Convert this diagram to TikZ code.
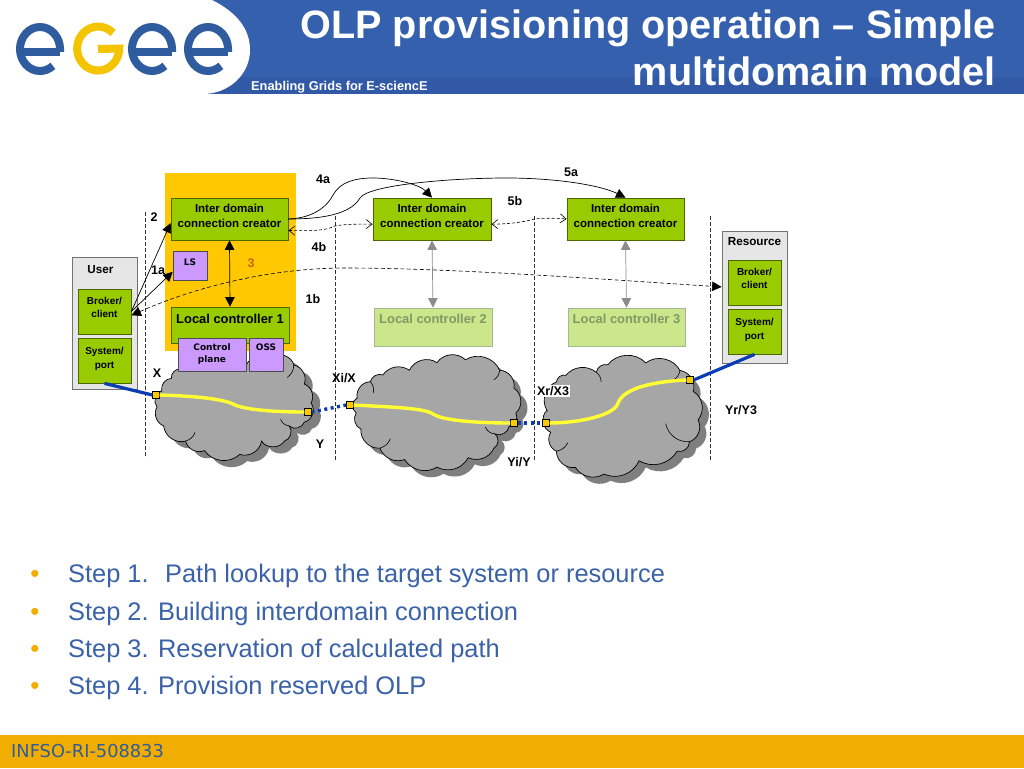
\documentclass[tikz,border=0pt]{standalone}
\usepackage{fontspec}
\setmainfont{Liberation Sans}
\newfontfamily\verd{DejaVu Sans}
\usetikzlibrary{arrows.meta}
\definecolor{hdr}{HTML}{3560AE}
\definecolor{hdrd}{HTML}{3159A6}
\definecolor{logob}{HTML}{2F5C9E}
\definecolor{logoy}{HTML}{F5C400}
\definecolor{foot}{HTML}{F2AE00}
\definecolor{bodyb}{HTML}{3A62A8}
\definecolor{grn}{HTML}{99CC00}
\definecolor{grnb}{HTML}{4D6600}
\definecolor{pur}{HTML}{CC99FF}
\definecolor{lgrn}{HTML}{CCE68C}
\definecolor{lgrnt}{HTML}{7F9966}
\definecolor{cloudf}{HTML}{A6A6A6}
\definecolor{clouds}{HTML}{7F7F7F}
\definecolor{amber}{HTML}{FFC800}
\definecolor{linkb}{HTML}{0A3CB4}
\definecolor{yel}{HTML}{FFFF33}
\definecolor{boxg}{HTML}{E6E6E6}
\newcommand{\cloudA}{(158,390) to[bend left=50] (168,377) to[bend left=50] (178,367) to[bend left=40] (247,363) to[bend left=50] (273,355) to[bend left=60] (297,363) to[bend left=50] (308,383) to[bend left=50] (315,403) to[bend left=60] (308,423) to[bend left=60] (292,427) to[bend left=60] (287,443) to[bend left=60] (263,443) to[bend left=50] (240,457) to[bend left=50] (203,453) to[bend left=50] (183,443) to[bend left=50] (160,427) to[bend left=50] (153,407) to[bend left=60] cycle}
\newcommand{\cloudB}{(353,397) to[bend left=50] (367,380) to[bend left=50] (380,373) to[bend left=45] (408,368) to[bend left=50] (437,360) to[bend left=50] (467,357) to[bend left=50] (503,368) to[bend left=50] (518,387) to[bend left=55] (520,413) to[bend left=60] (513,427) to[bend left=55] (498,435) to[bend left=60] (497,450) to[bend left=45] (470,460) to[bend left=45] (437,470) to[bend left=45] (403,462) to[bend left=45] (377,450) to[bend left=50] (357,430) to[bend left=50] (352,413) to[bend left=60] cycle}
\newcommand{\cloudC}{(543,410) to[bend left=50] (553,380) to[bend left=50] (563,373) to[bend left=45] (595,370) to[bend left=50] (607,362) to[bend left=50] (647,360) to[bend left=50] (683,368) to[bend left=50] (697,390) to[bend left=50] (702,420) to[bend left=50] (693,443) to[bend left=55] (680,453) to[bend left=45] (640,463) to[bend left=45] (603,477) to[bend left=45] (573,470) to[bend left=50] (553,453) to[bend left=50] (547,433) to[bend left=60] cycle}
\newcommand{\logoe}[1]{\draw[logob,line width=8pt] (#1+20,49+3) -- (#1-20,49+3); \draw[logob,line width=8pt] (#1+20,49+3) -- (#1+20,49) arc[start angle=0,end angle=-310,x radius=20,y radius=22];}
\tikzset{
 lbl/.style={font=\bfseries\fontsize{12.5}{14}\selectfont,inner sep=0pt},
 gbox/.style={draw=grnb,fill=grn,line width=.8pt,align=center,inner sep=0pt,text depth=6pt,font=\bfseries\fontsize{11.5}{15}\selectfont},
 sbox/.style={draw=grnb,fill=grn,line width=.8pt,align=center,inner sep=0pt,font=\bfseries\fontsize{10}{13.5}\selectfont},
 pbox/.style={draw=black!70,fill=pur,line width=.6pt,align=center,inner sep=0pt,font=\verd\bfseries\fontsize{9}{12}\selectfont},
 lbox/.style={draw=lgrnt!70,fill=lgrn,line width=.8pt,inner sep=0pt,text=lgrnt,font=\bfseries\fontsize{12.9}{14}\selectfont},
 gcont/.style={draw=black!55,fill=boxg,line width=.8pt,inner sep=0pt,font=\bfseries\fontsize{11.7}{14}\selectfont},
 portn/.style={draw=black,fill=amber,line width=.6pt,minimum width=6.5pt,minimum height=6.5pt,inner sep=0pt},
 farrow/.style={-{Triangle[length=9.5pt,width=9.5pt]},line width=.7pt},
 farrows/.style={{Triangle[length=9.5pt,width=9.5pt]}-{Triangle[length=9.5pt,width=9.5pt]},line width=.7pt},
 barb/.style={{Straight Barb[length=6pt,width=9pt]}-{Straight Barb[length=6pt,width=9pt]},dash pattern=on 3pt off 2pt,line width=.6pt},
 divider/.style={black!80,line width=.7pt,dash pattern=on 3.5pt off 2.5pt},
 yline/.style={yel,line width=3.4pt},
 bline/.style={linkb,line width=3.2pt},
 dline/.style={linkb,line width=3.4pt,dash pattern=on 3pt off 3.5pt},
 stepn/.style={anchor=base west,inner sep=0pt,text=bodyb,font=\fontsize{25.4}{28}\selectfont},
 bull/.style={anchor=base,inner sep=0pt,text=foot,font=\fontsize{26}{28}\selectfont},
 crease/.style={draw=black,line width=.6pt},
}
\begin{document}
\begin{tikzpicture}[x=1pt,y=-1pt]
\useasboundingbox (0,0) rectangle (1024,768);
\fill[white] (0,0) rectangle (1024,768);
% header
\fill[hdr] (0,0) rectangle (1024,94);
\fill[hdrd] (0,77) rectangle (1024,94);
\fill[white] (0,0) -- (212,0) .. controls (238,13) and (250,30) .. (250,50) .. controls (250,75) and (228,94) .. (203,94) -- (0,94) -- cycle;
\logoe{40}
\draw[logoy,line width=8pt] (98+15,49-16) arc[start angle=-45,end angle=-360,x radius=21,y radius=22] -- (98,49);
\logoe{152}
\logoe{208}
\node[anchor=base west,inner sep=0pt,text=white,font=\bfseries\fontsize{12.8}{14}\selectfont] (tag) at (251,90) {Enabling Grids for E-sciencE};
\node[anchor=base east,inner sep=0pt,text=white,font=\bfseries\fontsize{39.6}{44}\selectfont] (t1) at (996,38) {OLP provisioning operation – Simple};
\node[anchor=base east,inner sep=0pt,text=white,font=\bfseries\fontsize{39.6}{44}\selectfont] (t2) at (996,85) {multidomain model};
% footer
\fill[foot] (0,735) rectangle (1024,768);
\node[anchor=base west,inner sep=0pt,text=logob,font=\verd\fontsize{17.8}{20}\selectfont] (fn) at (11,757) {INFSO-RI-508833};
% bullets
\node[bull] (b1) at (35,582) {•};
\node[stepn] (s1) at (68,582) {Step 1.~ Path lookup to the target system or resource};
\node[bull] (b2) at (35,620) {•};
\node[stepn] (s2) at (68,620) {Step 2. Building interdomain connection};
\node[bull] (b3) at (35,657) {•};
\node[stepn] (s3) at (68,657) {Step 3. Reservation of calculated path};
\node[bull] (b4) at (35,694) {•};
\node[stepn] (s4) at (68,694) {Step 4. Provision reserved OLP};
% domain 1 background
\fill[amber] (165,173) rectangle (296,351);
% clouds
\begin{scope}[shift={(234,405)},scale=.95,shift={(-234,-405)}]
\fill[clouds,shift={(8,7)}] \cloudA;
\filldraw[fill=cloudf,draw=black,line width=.7pt] \cloudA;
\draw[crease] (297,363) to[bend left=25] (290,376);
\draw[crease] (292,427) to[bend left=30] (283,420);
\draw[crease] (183,443) to[bend right=25] (193,434);
\end{scope}
\begin{scope}[shift={(436,413)},scale=.95,shift={(-436,-413)}]
\fill[clouds,shift={(7,7)}] \cloudB;
\filldraw[fill=cloudf,draw=black,line width=.7pt] \cloudB;
\draw[crease] (367,380) to[bend left=25] (370,392);
\draw[crease] (503,368) to[bend left=25] (497,378);
\draw[crease] (498,435) to[bend left=30] (488,428);
\draw[crease] (377,450) to[bend right=25] (388,440);
\end{scope}
\begin{scope}[shift={(622,418)},scale=.95,shift={(-622,-418)}]
\fill[clouds,shift={(7,7)}] \cloudC;
\filldraw[fill=cloudf,draw=black,line width=.7pt] \cloudC;
\draw[crease] (595,370) to[bend left=25] (600,380);
\draw[crease] (683,368) to[bend left=25] (676,378);
\draw[crease] (693,443) to[bend left=40] (668,424);
\draw[crease] (553,453) to[bend right=25] (565,444);
\end{scope}
% dividers
\coordinate (d1a) at (145,212); \coordinate (d1b) at (145,458);
\coordinate (d2a) at (335,216); \coordinate (d2b) at (335,460);
\coordinate (d3a) at (534,216); \coordinate (d3b) at (534,460);
\coordinate (d4a) at (710,216); \coordinate (d4b) at (710,460);
\draw[divider] (d1a) -- (d1b);
\draw[divider] (d2a) -- (d2b);
\draw[divider] (d3a) -- (d3b);
\draw[divider] (d4a) -- (d4b);
% containers
\node[gcont,minimum width=65pt,minimum height=132pt,text depth=108pt] (user) at (104.5,323) {User\hspace*{8pt}};
\node[gcont,minimum width=65pt,minimum height=132pt,text depth=112pt] (res) at (754.5,297) {Resource};
\node[sbox,minimum width=53pt,minimum height=45pt,text depth=8.5pt] (ubrok) at (104.5,311.5) {Broker/\\client};
\node[sbox,minimum width=53pt,minimum height=45pt,text depth=5pt] (usys) at (104.5,360.5) {System/\\port};
\node[sbox,minimum width=53pt,minimum height=45pt,text depth=8.5pt] (rbrok) at (754.5,282.5) {Broker/\\client};
\node[sbox,minimum width=53pt,minimum height=45pt,text depth=5pt] (rsys) at (754.5,331.5) {System/\\port};
% inter-domain
\node[gbox,minimum width=117pt,minimum height=42pt] (ic1) at (229.5,219) {Inter domain\\connection creator};
\node[gbox,minimum width=118pt,minimum height=42pt] (ic2) at (432,219) {Inter domain\\connection creator};
\node[gbox,minimum width=117pt,minimum height=42pt] (ic3) at (625.5,219) {Inter domain\\connection creator};
\node[pbox,minimum width=34pt,minimum height=29pt,text depth=6pt] (ls) at (190,265.5) {LS};
\node[gbox,minimum width=118pt,minimum height=36pt,text depth=13pt,font=\bfseries\fontsize{12.9}{14}\selectfont] (lc1) at (230,325) {Local controller 1};
\node[lbox,minimum width=118pt,minimum height=38pt,text depth=16pt] (lc2) at (433,327) {Local controller 2};
\node[lbox,minimum width=117pt,minimum height=38pt,text depth=16pt] (lc3) at (626.5,327) {Local controller 3};
\node[pbox,minimum width=68pt,minimum height=33pt,text depth=3pt] (cp) at (212,354.5) {Control\\plane};
\node[pbox,minimum width=34pt,minimum height=33pt,text depth=14pt] (oss) at (266,354.5) {OSS};
% ports
\node[portn] (p1) at (156,395) {};
\node[portn] (p2) at (308,412) {};
\node[portn] (p3) at (350,405) {};
\node[portn] (p4) at (514,423) {};
\node[portn] (p5) at (546,423) {};
\node[portn] (p6) at (690,380) {};
\draw[bline] (usys.south) -- (p1.west);
\draw[bline] (rsys.south) -- (p6.east);
\draw[dline] (p2.east) -- (p3.west);
\draw[dline] (p4.east) -- (p5.west);
\draw[yline] (p1.east) .. controls (195,396) and (225,399) .. (235,405) .. controls (250,411) and (285,412) .. (p2.west);
\draw[yline] (p3.east) .. controls (390,407) and (425,408) .. (433,414) .. controls (445,422) and (490,423) .. (p4.west);
\draw[yline] (p5.east) .. controls (580,423) and (615,415) .. (618,403) .. controls (625,385) and (665,381) .. (p6.west);
% arrows
\draw[farrow] (ubrok.east) -- (ic1.-176);
\draw[farrow] (ubrok.east) -- (ls.-160);
\draw[farrows] (ic1.south) -- (lc1.north);
\draw[farrows,black!45] (ic2.south) -- (lc2.north);
\draw[farrows,black!45] (ic3.south) -- (lc3.north);
\draw[farrow] (ic1.east) .. controls (315,218) and (328,205) .. (333,195) .. controls (340,182) and (355,178) .. (373,178) .. controls (395,178) and (420,185) .. (ic2.north);
\draw[farrow] (ic1.east) .. controls (320,219) and (350,215) .. (360,198) .. controls (368,185) and (450,178) .. (507,178) .. controls (555,178) and (600,185) .. (ic3.north);
\draw[barb] (ic1.-11.6) .. controls (310,231) and (325,231) .. (335,226) .. controls (345,224) and (360,224) .. (ic2.-175);
\draw[barb] (ic2.-5) .. controls (510,224) and (525,222) .. (534,219) .. controls (545,218) and (555,218) .. (ic3.west);
\draw[{Triangle[length=9.5pt,width=9.5pt]}-{Triangle[length=9.5pt,width=9.5pt]},dash pattern=on 4pt off 2.5pt,line width=.6pt] (ubrok.-8) .. controls (200,285) and (275,268) .. (345,268) .. controls (450,268) and (600,279) .. (res.163);
% labels
\node[lbl] (n4a) at (323,179) {4a};
\node[lbl] (n5a) at (571,172) {5a};
\node[lbl] (n5b) at (515,201) {5b};
\node[lbl] (n2) at (154,217) {2};
\node[lbl] (n1a) at (158,270) {1a};
\node[lbl,text=orange!80!black] (n3) at (251,263) {3};
\node[lbl] (n4b) at (319,247) {4b};
\node[lbl] (n1b) at (313,299) {1b};
\node[lbl] (nx) at (157,373) {X};
\node[lbl] (nxi) at (344,378) {Xi/X};
\node[lbl] (ny) at (320,444) {Y};
\node[lbl,fill=white,inner sep=1.5pt] (nxr) at (553,391) {Xr/X3};
\node[lbl] (nyi) at (519,462) {Yi/Y};
\node[lbl] (nyr) at (741,410) {Yr/Y3};
\end{tikzpicture}
\end{document}
